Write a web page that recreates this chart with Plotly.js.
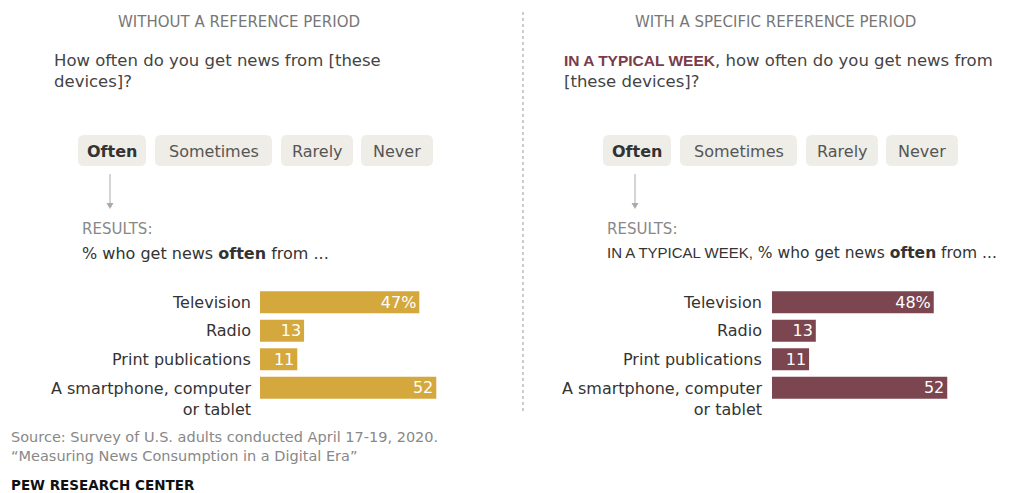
<!DOCTYPE html>
<html>
<head>
<meta charset="utf-8">
<script src="https://cdn.plot.ly/plotly-3.0.1.min.js"></script>
<style>html,body{margin:0;padding:0;background:#fff;}#chart{width:1011px;height:493px;}</style>
</head>
<body>
<div id="chart"></div>
<script>
// ---- data ----
const categories = ['Television', 'Radio', 'Print publications', 'A smartphone, computer<br>or tablet'];
const withoutPeriod = [47, 13, 11, 52];
const withPeriod = [48, 13, 11, 52];
const scaleOptions = ['Often', 'Sometimes', 'Rarely', 'Never'];
const panelTitles = ['WITHOUT A REFERENCE PERIOD', 'WITH A SPECIFIC REFERENCE PERIOD'];
const questions = [
  'How often do you get news from [these<br>devices]?',
  '<span style="fill:#7a3b4a;font-family:Liberation Sans, Arial, sans-serif;font-size:15.5px"><b>IN A TYPICAL WEEK</b></span>, how often do you get news from<br>[these devices]?'
];
const resultLines = [
  '% who get news <b>often</b> from ...',
  '<span style="font-family:Liberation Sans, Arial, sans-serif;font-size:15px">IN A TYPICAL WEEK,</span> % who get news <b>often</b> from ...'
];
const sourceText = 'Source: Survey of U.S. adults conducted April 17-19, 2020.<br>\u201cMeasuring News Consumption in a Digital Era\u201d';
const creditText = 'PEW RESEARCH CENTER';

// ---- helpers ----
const W = 1011, H = 493;
const px = x => x / W;
const py = y => 1 - y / H;
const FONT = 'DejaVu Sans, Liberation Sans, sans-serif';
const GOLD = '#d4a83d', MAROON = '#7b4650';

function rrect(x0, y0, x1, y1, r) {
  const X = v => px(v).toFixed(5), Y = v => py(v).toFixed(5);
  return `M${X(x0 + r)},${Y(y0)} L${X(x1 - r)},${Y(y0)} Q${X(x1)},${Y(y0)} ${X(x1)},${Y(y0 + r)} ` +
    `L${X(x1)},${Y(y1 - r)} Q${X(x1)},${Y(y1)} ${X(x1 - r)},${Y(y1)} L${X(x0 + r)},${Y(y1)} ` +
    `Q${X(x0)},${Y(y1)} ${X(x0)},${Y(y1 - r)} L${X(x0)},${Y(y0 + r)} Q${X(x0)},${Y(y0)} ${X(x0 + r)},${Y(y0)} Z`;
}

const idx = categories.map((c, i) => i);
function valueText(vals) { return vals.map((v, i) => i === 0 ? v + '%' : String(v)); }

const traces = [
  {
    type: 'bar', orientation: 'h', x: withoutPeriod, y: idx, xaxis: 'x', yaxis: 'y',
    marker: { color: GOLD }, width: 0.78,
    text: valueText(withoutPeriod), textposition: 'inside', insidetextanchor: 'end',
    constraintext: 'none', textfont: { color: '#ffffff', size: 16, family: FONT },
    hoverinfo: 'skip'
  },
  {
    type: 'bar', orientation: 'h', x: withPeriod, y: idx, xaxis: 'x2', yaxis: 'y2',
    marker: { color: MAROON }, width: 0.78,
    text: valueText(withPeriod), textposition: 'inside', insidetextanchor: 'end',
    constraintext: 'none', textfont: { color: '#ffffff', size: 16, family: FONT },
    hoverinfo: 'skip'
  }
];

const panels = [
  { x0: 260, scale: 3.39, labelX: 253, off: 0, titleX: 239, qX: 52, resX: 80, yax: 'y', resSize: 16 },
  { x0: 772, scale: 3.37, labelX: 764, off: 525, titleX: 775, qX: 562, resX: 605, yax: 'y2', resSize: 15.5 }
];

const ydom = [py(402), py(288)];
const axisCommon = { showgrid: false, zeroline: false, showticklabels: false, ticks: '', showline: false, fixedrange: true };

const annotations = [];
const shapes = [];

const btnBoxes = [[78, 146], [155, 272], [281, 353], [361, 433]];

panels.forEach((p, k) => {
  annotations.push({ xref: 'paper', yref: 'paper', x: px(p.titleX), y: py(22), xanchor: 'center', yanchor: 'middle',
    text: panelTitles[k], showarrow: false, font: { family: FONT, size: 15, color: '#777' } });
  annotations.push({ xref: 'paper', yref: 'paper', x: px(p.qX), y: py(49), xanchor: 'left', yanchor: 'top', align: 'left',
    text: questions[k], showarrow: false, font: { family: FONT, size: 16.5, color: '#444' } });
  btnBoxes.forEach((b, j) => {
    const x0 = b[0] + p.off, x1 = b[1] + p.off;
    shapes.push({ type: 'path', xref: 'paper', yref: 'paper', path: rrect(x0, 135, x1, 166, 6),
      fillcolor: '#efede7', line: { width: 0 }, layer: 'below' });
    annotations.push({ xref: 'paper', yref: 'paper', x: px((x0 + x1) / 2), y: py(151), xanchor: 'center', yanchor: 'middle',
      text: j === 0 ? '<b>' + scaleOptions[j] + '</b>' : scaleOptions[j], showarrow: false,
      font: { family: FONT, size: 16, color: j === 0 ? '#333' : '#555' } });
  });
  const ax = 110 + p.off;
  shapes.push({ type: 'line', xref: 'paper', yref: 'paper', x0: px(ax), x1: px(ax), y0: py(174), y1: py(204),
    line: { color: '#aaa', width: 1 } });
  shapes.push({ type: 'path', xref: 'paper', yref: 'paper',
    path: `M${px(ax - 3.5)},${py(203)} L${px(ax + 3.5)},${py(203)} L${px(ax)},${py(209)} Z`,
    fillcolor: '#aaa', line: { width: 0 } });
  annotations.push({ xref: 'paper', yref: 'paper', x: px(p.resX), y: py(229), xanchor: 'left', yanchor: 'middle',
    text: 'RESULTS:', showarrow: false, font: { family: FONT, size: 15, color: '#888' } });
  annotations.push({ xref: 'paper', yref: 'paper', x: px(p.resX), y: py(253), xanchor: 'left', yanchor: 'middle',
    text: resultLines[k], showarrow: false, font: { family: FONT, size: p.resSize, color: '#333' } });
  categories.forEach((c, i) => {
    const multi = c.indexOf('<br>') >= 0;
    annotations.push({ xref: 'paper', yref: p.yax, x: px(p.labelX), y: i, xanchor: 'right',
      yanchor: multi ? 'top' : 'middle', yshift: multi ? 11 : 0, align: 'right',
      text: c, showarrow: false, font: { family: FONT, size: 16, color: '#333' } });
  });
});

shapes.push({ type: 'line', xref: 'paper', yref: 'paper', x0: px(523), x1: px(523), y0: py(12), y1: py(412),
  line: { color: '#999', width: 1, dash: 'dot' } });

annotations.push({ xref: 'paper', yref: 'paper', x: px(9), y: py(427), xanchor: 'left', yanchor: 'top', align: 'left',
  text: sourceText, showarrow: false, font: { family: FONT, size: 14.5, color: '#888' } });
annotations.push({ xref: 'paper', yref: 'paper', x: px(9), y: py(485), xanchor: 'left', yanchor: 'middle',
  text: '<b>' + creditText + '</b>', showarrow: false, font: { family: FONT, size: 13.5, color: '#111' } });

const layout = {
  width: W, height: H,
  margin: { l: 0, r: 0, t: 0, b: 0, pad: 0 },
  paper_bgcolor: '#fff', plot_bgcolor: 'rgba(0,0,0,0)',
  showlegend: false, barmode: 'overlay',
  font: { family: FONT },
  xaxis: Object.assign({}, axisCommon, { domain: [px(panels[0].x0), px(panels[0].x0 + panels[0].scale * 60)], range: [0, 60] }),
  yaxis: Object.assign({}, axisCommon, { domain: ydom, range: [3.5, -0.5] }),
  xaxis2: Object.assign({}, axisCommon, { domain: [px(panels[1].x0), px(panels[1].x0 + panels[1].scale * 60)], range: [0, 60], anchor: 'y2' }),
  yaxis2: Object.assign({}, axisCommon, { domain: ydom, range: [3.5, -0.5], anchor: 'x2' }),
  annotations: annotations,
  shapes: shapes
};

Plotly.newPlot('chart', traces, layout, { displayModeBar: false, staticPlot: true });
</script>
</body>
</html>
